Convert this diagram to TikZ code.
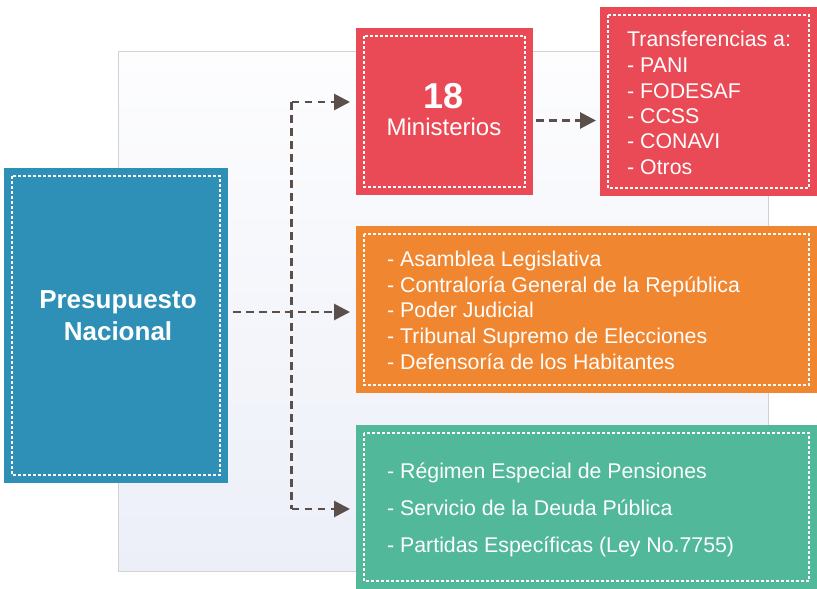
\documentclass[tikz,border=0pt]{standalone}
\usepackage{fontspec}
\setmainfont{Liberation Sans}
\usetikzlibrary{arrows.meta}
\definecolor{cblue}{HTML}{2E90B6}
\definecolor{cred}{HTML}{E94A55}
\definecolor{corange}{HTML}{F08630}
\definecolor{cgreen}{HTML}{51B899}
\definecolor{carrow}{HTML}{5B4F4C}
\definecolor{panelborder}{HTML}{D2D2D2}
\definecolor{paneltop}{HTML}{FDFDFE}
\definecolor{panelbot}{HTML}{ECEFF8}
\tikzset{
  box/.style={draw=none, minimum width=#1, inner sep=0pt, outer sep=0pt,
    path picture={\draw[white, line width=1.1pt, dash pattern=on 3pt off 2pt]
      ([shift={(8pt,-8pt)}]path picture bounding box.north west) rectangle
      ([shift={(-8pt,8pt)}]path picture bounding box.south east);}},
  conn/.style={draw=carrow, line width=2.8pt, dash pattern=on 7.5pt off 5.5pt},
  tip/.style={-{Triangle[length=16pt,width=16pt]}},
  txt/.style={text=white, font=\fontsize{21.3}{25}\selectfont, anchor=base west, inner sep=0pt}
}
\begin{document}
\begin{tikzpicture}[x=1pt,y=-1pt]
\useasboundingbox (0,0) rectangle (817,589);
% background panel
\node[draw=panelborder, line width=1pt, top color=paneltop, bottom color=panelbot,
  minimum width=650pt, minimum height=520pt, inner sep=0pt] (panel) at (443,311) {};
% boxes
\node[box=224pt, minimum height=315pt, fill=cblue] (pn) at (116,325.5) {};
\node[box=177pt, minimum height=167pt, fill=cred] (min) at (444.5,111.5) {};
\node[box=217pt, minimum height=189pt, fill=cred] (tr) at (708.5,101.5) {};
\node[box=461pt, minimum height=167pt, fill=corange] (or) at (586.5,309.5) {};
\node[box=461pt, minimum height=164pt, fill=cgreen] (gr) at (586.5,507) {};
% texts
\node[text=white, font=\bfseries\fontsize{26}{31}\selectfont, anchor=base, inner sep=0pt] (pn1) at (118,308) {Presupuesto};
\node[text=white, font=\bfseries\fontsize{26}{31}\selectfont, anchor=base, inner sep=0pt] (pn2) at (118,340) {Nacional};
\node[text=white, font=\bfseries\fontsize{36}{40}\selectfont, anchor=base, inner sep=0pt] (m1) at (444,108) {18};
\node[text=white, font=\fontsize{24}{28}\selectfont, anchor=base, inner sep=0pt] (m2) at (444,135) {Ministerios};
\node[txt] (t0) at (627,46) {Transferencias a:};
\node[txt] (t1) at (627,72) {- PANI};
\node[txt] (t2) at (627,98) {- FODESAF};
\node[txt] (t3) at (627,123) {- CCSS};
\node[txt] (t4) at (627,148) {- CONAVI};
\node[txt] (t5) at (627,174) {- Otros};
\node[txt] (o1) at (387,266) {- Asamblea Legislativa};
\node[txt] (o2) at (387,292) {- Contraloría General de la República};
\node[txt] (o3) at (387,317) {- Poder Judicial};
\node[txt] (o4) at (387,343) {- Tribunal Supremo de Elecciones};
\node[txt] (o5) at (387,369) {- Defensoría de los Habitantes};
\node[txt] (g1) at (387,478) {- Régimen Especial de Pensiones};
\node[txt] (g2) at (387,515) {- Servicio de la Deuda Pública};
\node[txt] (g3) at (387,552) {- Partidas Específicas (Ley No.7755)};
% connectors
\coordinate (ja) at (291.5,102);
\coordinate (jm) at (291.5,312);
\coordinate (jb) at (291.5,509);
\coordinate (ea) at (350,102);
\coordinate (em) at (350,312);
\coordinate (eb) at (350,509);
\coordinate (sm) at (233,312);
\coordinate (s2) at (536,120.5);
\coordinate (e2) at (596,120.5);
\draw[conn] (ja) -- (jb);
\draw[conn, tip] (ja) -- (ea);
\draw[conn, tip] (sm) -- (em);
\draw[conn, tip] (jb) -- (eb);
\draw[conn, tip] (s2) -- (e2);
\end{tikzpicture}
\end{document}
